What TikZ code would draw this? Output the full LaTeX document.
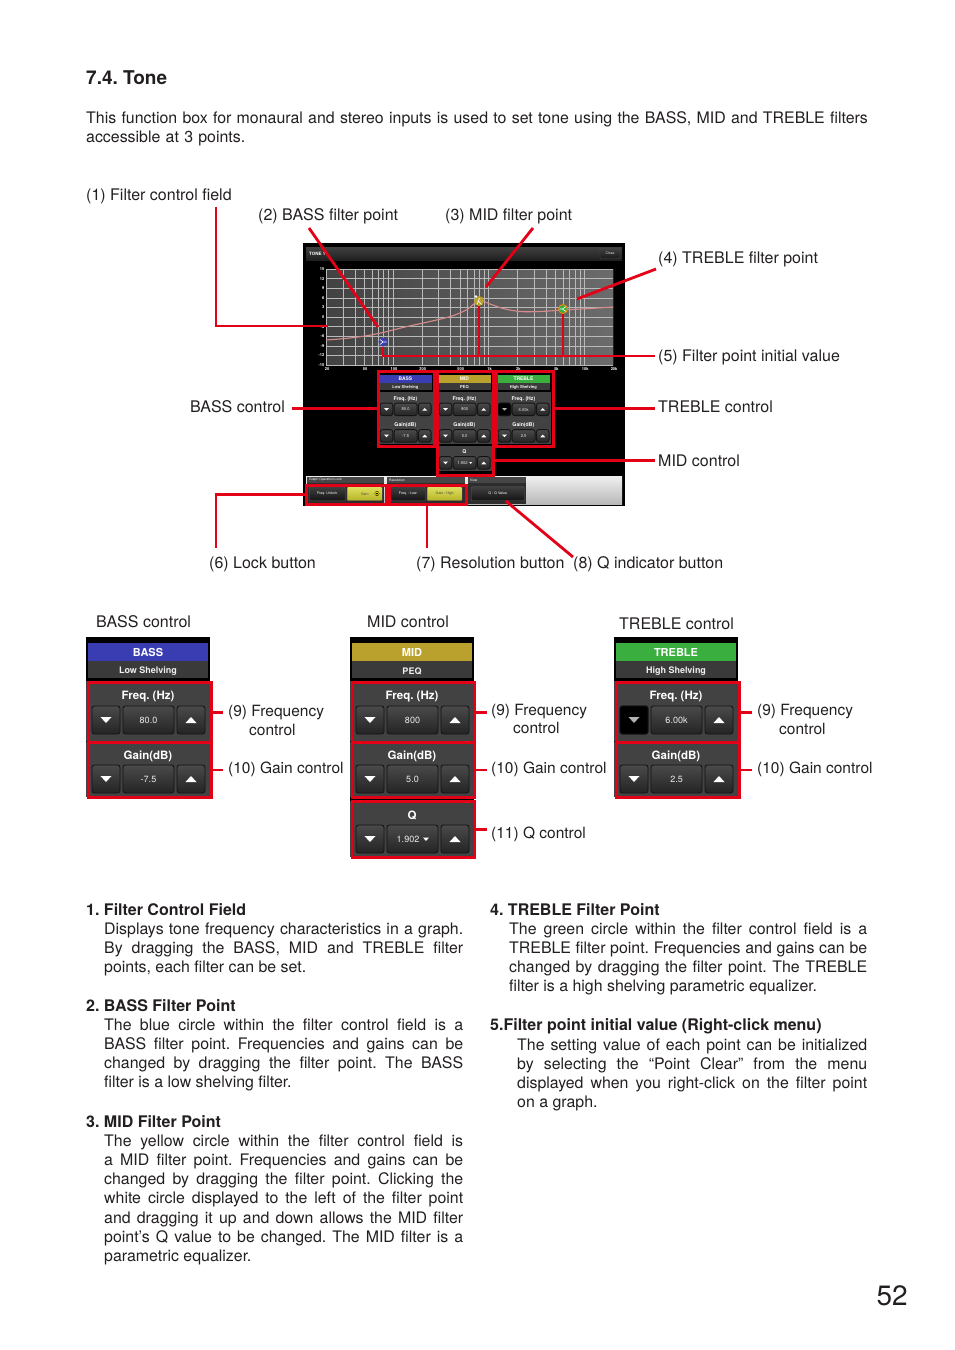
\documentclass[tikz,border=0pt]{standalone}
\usepackage{fontspec}
\setmainfont{TeX Gyre Heros}
\usetikzlibrary{positioning}

\definecolor{callred}{RGB}{228,0,22}
\definecolor{pagetext}{RGB}{35,31,32}
\definecolor{bassblue}{RGB}{58,60,178}
\definecolor{midgold}{RGB}{186,160,44}
\definecolor{treblegreen}{RGB}{58,174,62}
\definecolor{subgray}{RGB}{58,58,58}
\definecolor{secgray}{RGB}{66,66,66}
\definecolor{btntop}{RGB}{74,74,74}
\definecolor{btnbot}{RGB}{36,36,36}
\definecolor{btnedge}{RGB}{20,20,20}
\definecolor{uiyellow}{RGB}{214,212,44}
\definecolor{curvecol}{RGB}{214,140,140}

\tikzset{
  lbl/.style={font=\fontsize{16}{19.25}\selectfont, text=pagetext, inner sep=0},
  plbl/.style={lbl, font=\fontsize{15.5}{19}\selectfont, anchor=base west},
  head/.style={lbl, font=\bfseries\fontsize{16}{19.25}\selectfont, anchor=base west},
  para/.style={lbl, font=\fontsize{15.9}{19.25}\selectfont, text width=#1, align=justify, anchor=base west},
  callout/.style={draw=callred, line width=2.8},
  redbox/.style={draw=callred, line width=2.8, inner sep=0, anchor=north west},
  btn/.style={draw=btnedge, top color=btntop, bottom color=btnbot, rounded corners=2.5, line width=0.9},
  ptitle/.style={font=\bfseries\fontsize{11}{11}\selectfont, text=white, inner sep=0},
  psub/.style={font=\bfseries\fontsize{9}{9}\selectfont, text=white!88!gray, inner sep=0},
  phead/.style={font=\bfseries\fontsize{11.5}{11.5}\selectfont, text=white, inner sep=0},
  pval/.style={font=\fontsize{9}{9}\selectfont, text=white!85!gray, inner sep=0},
  axtxt/.style={font=\bfseries\fontsize{4}{4}\selectfont, text=white, inner sep=0},
  uibtn/.style={draw=gray!70!black, top color=gray!50!black, bottom color=gray!15!black, rounded corners=1,
    inner sep=0, text=white, font=\fontsize{3.6}{3.6}\selectfont, anchor=north west, minimum height=14},
  uiybtn/.style={uibtn, top color=uiyellow!75!white, bottom color=uiyellow!85!black, text=black!70},
  uitab/.style={anchor=west, inner sep=0, text=white, font=\fontsize{3.3}{3.3}\selectfont},
}

% one row of down / value / up buttons, #1 = top, #2 = value
\newcommand{\eqbtnrow}[2]{%
  \draw[btn] (6,#1) rectangle ++(28,28);
  \fill[white] (14.5,{#1+11}) -- (25.5,{#1+11}) -- (20,{#1+17}) -- cycle;
  \draw[btn] (37,#1) rectangle ++(51,28);
  \node[pval] at (62.5,{#1+14.5}) {#2};
  \draw[btn] (91,#1) rectangle ++(28,28);
  \fill[white] (99.5,{#1+17}) -- (110.5,{#1+17}) -- (105,{#1+11}) -- cycle;
}
% filter panel: colour, title, type, freq, gain
\newcommand{\eqpanel}[5]{%
  \fill[black] (0,0) rectangle (124,44);
  \fill[#1] (2,6) rectangle (122,24);
  \node[ptitle] at (62,15.5) {#2};
  \fill[subgray] (2,24) rectangle (122,41);
  \node[psub] at (62,34) {#3};
  \fill[secgray] (0,44) rectangle (124,104);
  \node[phead] at (62,60) {Freq. (Hz)};
  \eqbtnrow{69}{#4}
  \fill[black] (0,104) rectangle (124,105);
  \fill[secgray] (0,105) rectangle (124,160);
  \node[phead] at (62,119) {Gain(dB)};
  \eqbtnrow{128}{#5}
}
\newcommand{\eqqpanel}[1]{%
  \fill[black] (0,160) rectangle (124,164);
  \fill[secgray] (0,164) rectangle (124,220);
  \node[phead] at (62,178) {Q};
  \eqbtnrow{188}{}
  \node[pval] at (58,202.5) {#1};
  \fill[white] (73,200.5) -- (79,200.5) -- (76,204) -- cycle;
}
\newcommand{\offbtn}{%
  \draw[draw=btnedge, fill=black, rounded corners=2.5, line width=0.9] (6,69) rectangle ++(28,28);
  \fill[gray!60] (14.5,80) -- (25.5,80) -- (20,86) -- cycle;
}

\begin{document}
\frenchspacing
\begin{tikzpicture}[x=1pt,y=-1pt]
\useasboundingbox (0,0) rectangle (954,1350);
\fill[white] (0,0) rectangle (954,1350);

% ---- heading
\node[lbl, anchor=base west, font=\bfseries\fontsize{19}{19}\selectfont] (ttl) at (86,84) {7.4. Tone};
\node[lbl, anchor=base west, font=\fontsize{15.9}{19.25}\selectfont, text width=820pt, align=left] (intro) at (86,123)
  {This function box for monaural and stereo inputs is used to set tone using the BASS, MID and TREBLE filters\\accessible at 3 points.};

% ---- screen shot
\fill[black] (303,243) rectangle (625,506);
\fill[top color=gray!50!black, bottom color=gray!25!black] (306,247) rectangle (622,260);
\node[anchor=west, font=\bfseries\fontsize{4.5}{4.5}\selectfont, text=white, inner sep=0] (tone) at (309,253.5) {TONE 1};
\node[draw=gray!60!black, top color=gray!50!black, bottom color=gray!20!black, rounded corners=1,
  minimum width=20, minimum height=10, inner sep=0, text=white!80!gray, font=\fontsize{3.5}{3.5}\selectfont] (close) at (610,253.5) {Close};

% graph
\fill[left color=black!74, right color=black!58] (326,269) rectangle (613,365);
\begin{scope}
\clip (326,269) rectangle (613,365);
\foreach \d in {1,2,3,4}
  \foreach \m in {1,...,9}
    \draw[gray!55, line width=0.3] ({326+95.7*(log10(\m)+\d-1.30103)},269) -- ++(0,96);
\end{scope}
\foreach \i in {0,...,10}
  \draw[gray!55, line width=0.3] (326,{269+9.6*\i}) -- (613,{269+9.6*\i});
\foreach \v [count=\i from 0] in {15,12,9,6,3,0,-3,-6,-9,-12,-15}
  \node[axtxt, anchor=east] at (324.5,{269+9.6*\i}) {\v};
\foreach \r/\t in {1/20,2.5/50,5/100,10/200,25/500,50/1k,100/2k,250/5k,500/10k,1000/20k}
  \node[axtxt] at ({327+95.7*log10(\r)},369.5) {\t};

\draw[curvecol, line width=1.1] plot[smooth] coordinates {(326,340) (345,338.5) (365,336) (383,332.5)
  (405,327) (430,321.5) (452,316) (467,309.5) (479,300.5) (490,304) (503,308.5) (520,311.5)
  (540,311.5) (563,310) (590,308.5) (613,307)};

% filter points
\node[circle, fill=bassblue, minimum size=9, inner sep=0] (bp) at (383,342) {};
\draw[white, line width=0.6] (380,339.5) -- (383,342) -- (380,344.5) (383,342) -- (386.5,342);
\node[circle, fill=midgold, minimum size=10, inner sep=0] (mp) at (479,301) {};
\draw[white, line width=0.6] (477,304.5) -- (479.5,298) (478.3,301) -- (481.5,304.5);
\fill[white] (476,296.5) circle (1.3);
\node[circle, fill=treblegreen, draw=orange, line width=0.8, minimum size=9, inner sep=0] (tp) at (563,309) {};
\draw[white, line width=0.6] (566,306.5) -- (562.5,309) -- (566,311.5) (562.5,309) -- (559.5,309);

% small filter panels
\begin{scope}[shift={(377.5,372)}, scale=0.45, transform shape]
\eqpanel{bassblue}{BASS}{Low Shelving}{80.0}{-7.5}
\end{scope}
\begin{scope}[shift={(436.5,372)}, scale=0.45, transform shape]
\eqpanel{midgold}{MID}{PEQ}{800}{5.0}
\eqqpanel{1.902}
\end{scope}
\begin{scope}[shift={(495.5,372)}, scale=0.45, transform shape]
\eqpanel{treblegreen}{TREBLE}{High Shelving}{6.00k}{2.5}
\offbtn
\end{scope}

% bottom strip
\fill[top color=gray!12, bottom color=gray!55] (306,476) rectangle (622,504);
\fill[gray!35!black] (307,477) rectangle (384,504);
\fill[gray!55!black] (307,477) rectangle (384,483);
\node[uitab] (glock) at (309,480) {Graph Operation Lock};
\fill[gray!35!black] (387,477) rectangle (465,504);
\fill[gray!55!black] (387,477) rectangle (465,483);
\node[uitab] (gres) at (389,480) {Resolution};
\fill[gray!35!black] (468,477) rectangle (526,504);
\fill[gray!55!black] (468,477) rectangle (526,483);
\node[uitab] (gview) at (470,480) {View};
\node[uibtn, minimum width=36] (unlock) at (309,486.5) {Freq. Unlock};
\node[uiybtn, minimum width=35] (gainlk) at (347,486.5) {Gain\hspace{5pt}};
\draw[fill=yellow, draw=black, line width=0.3] (377,493.5) circle (2.2);
\fill[black] (377,493.5) circle (1);
\node[uibtn, minimum width=35] (freqlow) at (390,486.5) {Freq. : Low};
\node[uiybtn, minimum width=35] (gainhigh) at (427,486.5) {Gain : High};
\node[uibtn, minimum width=53] (qbtn) at (471,486.5) {Q : Q Value};

% red frames on the screen shot
\node[redbox, line width=2.5, minimum width=56, minimum height=75] (bbox) at (377,370) {};
\node[redbox, line width=2.5, minimum width=56, minimum height=104] (mbox) at (436,370) {};
\node[redbox, line width=2.5, minimum width=57, minimum height=75] (tbox) at (495,370) {};
\node[redbox, line width=2.5, minimum width=80, minimum height=19] (lockbox) at (305,484) {};
\node[redbox, line width=2.5, minimum width=77, minimum height=19] (resbox) at (388,484) {};

% ---- callout labels
\node[lbl, anchor=base west] (l1) at (86,200) {(1) Filter control field};
\node[lbl, anchor=base west] (l2) at (258,220) {(2) BASS filter point};
\node[lbl, anchor=base west] (l3) at (445,220) {(3) MID filter point};
\node[lbl, anchor=base west] (l4) at (658,263) {(4) TREBLE filter point};
\node[lbl, anchor=base west] (l5) at (658,361) {(5) Filter point initial value};
\node[lbl, anchor=base east] (lbass) at (285,412) {BASS control};
\node[lbl, anchor=base west] (ltreb) at (658,412) {TREBLE control};
\node[lbl, anchor=base west] (lmid) at (658,466) {MID control};
\node[lbl, anchor=base west] (l6) at (209,568) {(6) Lock button};
\node[lbl, anchor=base west] (l7) at (416,568) {(7) Resolution button};
\node[lbl, anchor=base west] (l8) at (573,568) {(8) Q indicator button};

\coordinate (c1s) at (216,207);
\coordinate (c1e) at (328,326);
\coordinate (c2s) at (309,228);
\coordinate (c2e) at (378,327);
\coordinate (c3s) at (533,228);
\coordinate (c3e) at (486,287);
\coordinate (c4s) at (656,269);
\coordinate (c4e) at (577,299);
\coordinate (c5) at (655,356);
\coordinate (c6) at (216,548);
\coordinate (c7) at (427,548);
\coordinate (c8) at (573,557);

\draw[callout] (c1s) |- (c1e);
\draw[callout] (c2s) -- (c2e);
\draw[callout] (c3s) -- (c3e);
\draw[callout] (c4s) -- (c4e);
\draw[callout] (bp) |- (c5);
\draw[callout] (mp) -- (mp |- c5);
\draw[callout] (tp) -- (tp |- c5);
\draw[callout] ([xshift=7]lbass.east |- bbox.west) -- (bbox.west);
\draw[callout] (tbox.east) -- ([xshift=-3]tbox.east -| ltreb.west);
\draw[callout] (mbox.east |- lmid.west) -- ([xshift=-3]lmid.west);
\draw[callout] (lockbox.west) -| (c6);
\draw[callout] (resbox.south -| c7) -- (c7);
\draw[callout] ([xshift=8]qbtn.south) -- (c8);

% ---- enlarged panels
\node[lbl, anchor=base west] (tbass) at (96,627) {BASS control};
\node[lbl, anchor=base west] (tmid) at (367,627) {MID control};
\node[lbl, anchor=base west] (ttreb) at (619,629) {TREBLE control};

\begin{scope}[shift={(86,637)}]
\eqpanel{bassblue}{BASS}{Low Shelving}{80.0}{-7.5}
\end{scope}
\begin{scope}[shift={(350,637)}]
\eqpanel{midgold}{MID}{PEQ}{800}{5.0}
\eqqpanel{1.902}
\end{scope}
\begin{scope}[shift={(614,637)}]
\eqpanel{treblegreen}{TREBLE}{High Shelving}{6.00k}{2.5}
\offbtn
\end{scope}

\node[redbox, minimum width=123, minimum height=60] (bfreq) at (87,681) {};
\node[redbox, minimum width=123, minimum height=55] (bgain) at (87,741) {};
\node[redbox, minimum width=123, minimum height=60] (mfreq) at (350.5,681) {};
\node[redbox, minimum width=123, minimum height=55] (mgain) at (350.5,741) {};
\node[redbox, minimum width=123, minimum height=56] (mq) at (350.5,800) {};
\node[redbox, minimum width=123, minimum height=60] (tfreq) at (615,681) {};
\node[redbox, minimum width=123, minimum height=55] (tgain) at (615,741) {};

\node[plbl] (b9) at (228,716) {(9) Frequency};
\node[plbl] (b9b) at (249,735) {control};
\node[plbl] (b10) at (228,773) {(10) Gain control};
\node[plbl] (m9) at (491,715) {(9) Frequency};
\node[plbl] (m9b) at (513,733) {control};
\node[plbl] (m10) at (491,773) {(10) Gain control};
\node[plbl] (m11) at (491,838) {(11) Q control};
\node[plbl] (t9) at (757,715) {(9) Frequency};
\node[plbl] (t9b) at (779,734) {control};
\node[plbl] (t10) at (757,773) {(10) Gain control};

\draw[callout] (bfreq.east) -- ([xshift=-5]bfreq.east -| b9.west);
\draw[callout] (bgain.east) -- ([xshift=-5]bgain.east -| b10.west);
\draw[callout] (mfreq.east) -- ([xshift=-4]mfreq.east -| m9.west);
\draw[callout] (mgain.east) -- ([xshift=-4]mgain.east -| m10.west);
\draw[callout] (mq.east) -- ([xshift=-4]mq.east -| m11.west);
\draw[callout] (tfreq.east) -- ([xshift=-5]tfreq.east -| t9.west);
\draw[callout] (tgain.east) -- ([xshift=-5]tgain.east -| t10.west);

% ---- descriptions
\node[head] (h1) at (86,915) {1. Filter Control Field};
\node[para=359pt] (p1) at (104,934) {Displays tone frequency characteristics in a graph.\linebreak
  By dragging the BASS, MID and TREBLE filter\linebreak points, each filter can be set.};
\node[head] (h2) at (86,1011) {2. BASS Filter Point};
\node[para=359pt] (p2) at (104,1030) {The blue circle within the filter control field is a\linebreak
  BASS filter point. Frequencies and gains can be\linebreak changed by dragging the filter point. The BASS\linebreak
  filter is a low shelving filter.};
\node[head] (h3) at (86,1127) {3. MID Filter Point};
\node[para=359pt] (p3) at (104,1146) {The yellow circle within the filter control field is\linebreak
  a MID filter point. Frequencies and gains can be\linebreak changed by dragging the filter point. Clicking the\linebreak
  white circle displayed to the left of the filter point\linebreak and dragging it up and down allows the MID filter\linebreak
  point’s Q value to be changed. The MID filter is a\linebreak parametric equalizer.};
\node[head] (h4) at (490,915) {4. TREBLE Filter Point};
\node[para=358pt] (p4) at (509,934) {The green circle within the filter control field is a\linebreak
  TREBLE filter point. Frequencies and gains can be\linebreak changed by dragging the filter point. The TREBLE\linebreak
  filter is a high shelving parametric equalizer.};
\node[head] (h5) at (490,1030) {5.Filter point initial value (Right-click menu)};
\node[para=350pt] (p5) at (517,1050) {The setting value of each point can be initialized\linebreak
  by selecting the “Point Clear” from the menu\linebreak displayed when you right-click on the filter point\linebreak
  on a graph.};

\node[lbl, anchor=base east, font=\fontsize{28}{28}\selectfont] (pgno) at (908,1305) {52};
\end{tikzpicture}
\end{document}
